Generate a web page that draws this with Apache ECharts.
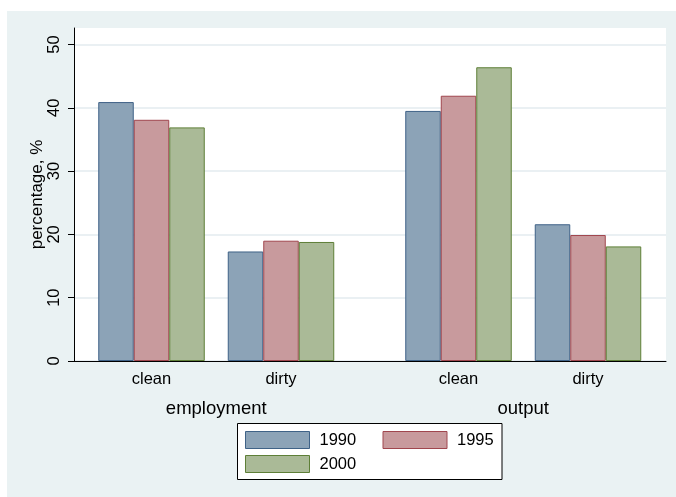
<!DOCTYPE html>
<html>
<head>
<meta charset="utf-8">
<script src="https://cdn.jsdelivr.net/npm/echarts@6/dist/echarts.min.js"></script>
<style>
html,body{margin:0;padding:0;background:#fff;}
#chart{width:676px;height:497px;}
</style>
</head>
<body>
<div id="chart"></div>
<script>
// ---- data ----
const categories = ['clean', 'dirty'];
const groups = ['employment', 'output'];
const years = ['1990', '1995', '2000'];
const employment1990 = [40.9, 17.3];
const employment1995 = [38.1, 19.0];
const employment2000 = [36.9, 18.8];
const output1990 = [39.5, 21.6];
const output1995 = [41.9, 19.9];
const output2000 = [46.4, 18.1];
const yTicks = [0, 10, 20, 30, 40, 50];

const employmentSeries = [employment1990, employment1995, employment2000];
const outputSeries = [output1990, output1995, output2000];

const fills = ['#8CA3B7', '#C89A9D', '#AABA97'];
const strokes = ['#3F6287', '#A0464E', '#5E7F37'];
const FONT = 'Liberation Sans, Arial, sans-serif';
const YMAX = 52.6;

const chart = echarts.init(document.getElementById('chart'));

function groupXAxis(gi, name) {
  return {
    type: 'category', gridIndex: gi, data: categories,
    axisLine: {show: false}, axisTick: {show: false},
    axisLabel: {color: '#000', fontSize: 16.5, fontFamily: FONT, margin: 10},
    name: name, nameLocation: 'middle', nameGap: 38, nameMoveOverlap: false,
    nameTextStyle: {color: '#000', fontSize: 18.5, fontFamily: FONT}
  };
}
function hiddenYAxis(gi) {
  return {type: 'value', gridIndex: gi, min: 0, max: YMAX, show: false};
}

const series = [];
years.forEach((y, i) => {
  [[employmentSeries[i], 1], [outputSeries[i], 2]].forEach(([vals, idx]) => {
    series.push({
      type: 'bar', name: y, xAxisIndex: idx, yAxisIndex: idx,
      data: vals, barWidth: 35.5, barGap: '0%',
      itemStyle: {color: fills[i], borderColor: strokes[i], borderWidth: 1},
      emphasis: {disabled: true}
    });
  });
});

chart.setOption({
  animation: false,
  graphic: [
    {type: 'rect', z: -100, shape: {x: 7, y: 11, width: 669, height: 486}, style: {fill: '#EAF2F3'}, silent: true},
    {type: 'rect', z: -90, shape: {x: 237.5, y: 423.5, width: 264.5, height: 56}, style: {fill: '#fff', stroke: '#000', lineWidth: 1}, silent: true}
  ],
  grid: [
    {left: 74, right: 10, top: 28, bottom: 136, show: true, backgroundColor: '#fff', borderWidth: 0},
    {left: 86.75, width: 259, top: 28, bottom: 136},
    {left: 393.75, width: 259, top: 28, bottom: 136}
  ],
  xAxis: [
    {type: 'value', gridIndex: 0, min: 0, max: 1,
     axisLine: {show: true, onZero: false, lineStyle: {color: '#000', width: 1}},
     axisTick: {show: false}, axisLabel: {show: false}, splitLine: {show: false}},
    groupXAxis(1, groups[0]),
    groupXAxis(2, groups[1])
  ],
  yAxis: [
    {type: 'value', gridIndex: 0, min: 0, max: YMAX,
     name: 'percentage, %', nameLocation: 'middle', nameGap: 28.5, nameMoveOverlap: false,
     nameTextStyle: {color: '#000', fontSize: 17, fontFamily: FONT},
     axisLine: {show: true, onZero: false, lineStyle: {color: '#000', width: 1}},
     axisTick: {show: true, length: 6, lineStyle: {color: '#000'}, customValues: yTicks},
     axisLabel: {color: '#000', fontSize: 16.5, fontFamily: FONT, rotate: 90, margin: 11, customValues: yTicks},
     splitLine: {show: true, lineStyle: {color: '#E3EBEF', width: 1.5}}},
    hiddenYAxis(1),
    hiddenYAxis(2)
  ],
  legend: {
    data: years, left: 245, top: 431, width: 280, orient: 'horizontal', padding: 0,
    icon: 'rect', itemWidth: 64, itemHeight: 17, itemGap: 6,
    selectedMode: false,
    itemStyle: {borderWidth: 1},
    textStyle: {color: '#000', fontSize: 16.5, fontFamily: FONT, width: 57, lineHeight: 17, padding: [0, 0, 0, 5]}
  },
  series: series
});
</script>
</body>
</html>
